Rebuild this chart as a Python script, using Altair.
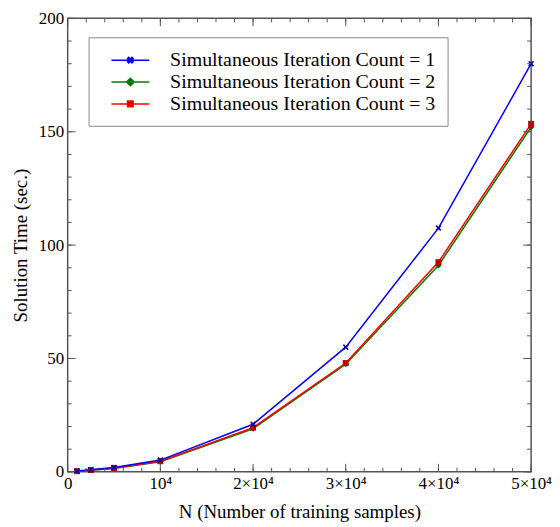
import json
import altair as alt
import pandas as pd

# ---- data ----
N = [1000, 2500, 5000, 10000, 20000, 30000, 40000, 50000]
count1 = [0.4, 0.9, 1.9, 5.2, 21.0, 55.0, 107.5, 180.0]
count2 = [0.3, 0.7, 1.5, 4.4, 19.0, 47.5, 91.0, 152.0]
count3 = [0.3, 0.8, 1.7, 4.7, 19.5, 48.0, 92.5, 153.5]
series_names = [
    "Simultaneous Iteration Count = 1",
    "Simultaneous Iteration Count = 2",
    "Simultaneous Iteration Count = 3",
]
x_major_ticks = [0, 10000, 20000, 30000, 40000, 50000]
x_tick_labels = ["0", "10⁴", "2×10⁴", "3×10⁴", "4×10⁴", "5×10⁴"]
x_minor_ticks = [0, 2000, 4000, 6000, 8000, 10000, 12000, 14000, 16000, 18000,
                 20000, 22000, 24000, 26000, 28000, 30000, 32000, 34000, 36000,
                 38000, 40000, 42000, 44000, 46000, 48000, 50000]
y_major_ticks = [0, 50, 100, 150, 200]
y_minor_ticks = [0, 10, 20, 30, 40, 50, 60, 70, 80, 90, 100, 110, 120, 130,
                 140, 150, 160, 170, 180, 190, 200]

# ---- style ----
W, H = 466, 456
FONT = "Liberation Serif"
line_colors = ["#0000ff", "#008000", "#ff0000"]
marker_colors = ["#0000aa", "#006400", "#c00000"]
X_PATH = ("M-1,-0.6L-0.6,-1L0,-0.4L0.6,-1L1,-0.6L0.4,0L1,0.6L0.6,1L0,0.4"
          "L-0.6,1L-1,0.6L-0.4,0Z")
marker_shapes = [X_PATH, "diamond", "square"]
legend_paths = [
    "M-1.9,0H1.9M-0.28,-0.16L-0.16,-0.28L0,-0.12L0.16,-0.28L0.28,-0.16L0.12,0"
    "L0.28,0.16L0.16,0.28L0,0.12L-0.16,0.28L-0.28,0.16L-0.12,0Z",
    "M-1.9,0H1.9M0,-0.38L0.38,0L0,0.38L-0.38,0Z",
    "M-1.9,0H1.9M-0.28,-0.28H0.28V0.28H-0.28Z",
]
draw_order = [1, 2, 0]

df = pd.DataFrame({
    "N": N * 3,
    "time": count1 + count2 + count3,
    "series": [s for s in series_names for _ in N],
})

xs = alt.Scale(domain=[0, 50000], nice=False, zero=False)
ys = alt.Scale(domain=[0, 200], nice=False)
x_axis = alt.Axis(values=x_major_ticks, ticks=False, domain=False, grid=False,
                  labelExpr=json.dumps(x_tick_labels, ensure_ascii=False)
                  + "[round(datum.value/10000)]",
                  labelFlush=False, labelPadding=4, titlePadding=11)
y_axis = alt.Axis(values=y_major_ticks, ticks=False, domain=False, grid=False,
                  labelFlush=False, labelPadding=4, titlePadding=8)
X = alt.X("N:Q", scale=xs, axis=x_axis, title="N (Number of training samples)")
Y = alt.Y("time:Q", scale=ys, axis=y_axis, title="Solution Time (sec.)")

layers = []
for i in draw_order:
    sub = df[df["series"] == series_names[i]]
    layers.append(alt.Chart(sub).mark_line(color=line_colors[i], strokeWidth=1.5)
                  .encode(x=X, y=Y))
for i in draw_order:
    sub = df[df["series"] == series_names[i]]
    layers.append(alt.Chart(sub).mark_point(shape=marker_shapes[i], filled=True,
                                            color=marker_colors[i], opacity=1,
                                            size=36)
                  .encode(x=X, y=Y))

# inward ticks on all four sides
TICK = "#555555"
xmaj = pd.DataFrame({"N": x_major_ticks})
xmin = pd.DataFrame({"N": x_minor_ticks})
ymaj = pd.DataFrame({"time": y_major_ticks})
ymin = pd.DataFrame({"time": y_minor_ticks})
for d, L in [(xmaj, 8), (xmin, 4)]:
    layers.append(alt.Chart(d).mark_rule(color=TICK, strokeWidth=1).encode(
        x=X, y=alt.value(H), y2=alt.value(H - L)))
    layers.append(alt.Chart(d).mark_rule(color=TICK, strokeWidth=1).encode(
        x=X, y=alt.value(0), y2=alt.value(L)))
for d, L in [(ymaj, 8), (ymin, 4)]:
    layers.append(alt.Chart(d).mark_rule(color=TICK, strokeWidth=1).encode(
        y=Y, x=alt.value(0), x2=alt.value(L)))
    layers.append(alt.Chart(d).mark_rule(color=TICK, strokeWidth=1).encode(
        y=Y, x=alt.value(W), x2=alt.value(W - L)))

leg = alt.Legend(orient="none", legendX=21, legendY=19, title=None,
                 padding=12, strokeColor="#888888", fillColor="white",
                 symbolSize=400, symbolOffset=19, labelOffset=29,
                 symbolStrokeWidth=1.5, labelFont=FONT, labelFontSize=20,
                 labelColor="black", labelLimit=0, rowPadding=1,
                 labelExpr="datum.label + '\u00a0\u00a0\u00a0\u00a0\u00a0\u00a0'")
legend_layer = alt.Chart(df).transform_filter("false").mark_point(
    opacity=1, strokeWidth=1.5).encode(
    x=X, y=Y,
    fill=alt.Fill("series:N", scale=alt.Scale(domain=series_names, range=marker_colors), legend=leg),
    stroke=alt.Stroke("series:N", scale=alt.Scale(domain=series_names, range=line_colors), legend=leg),
    shape=alt.Shape("series:N", scale=alt.Scale(domain=series_names, range=legend_paths), legend=leg),
)
layers.append(legend_layer)

chart = alt.layer(*layers).properties(
    width=W, height=H,
    padding={"left": 3, "top": 0, "right": 0, "bottom": 0},
).configure(background="white").configure_view(
    stroke="#555555", strokeWidth=1.5
).configure_axis(
    labelFont=FONT, labelFontSize=17, labelColor="black",
    titleFont=FONT, titleFontSize=19, titleFontWeight="normal", titleColor="black",
)

chart.save("out.html", embed_options={"renderer": "svg", "actions": False})
